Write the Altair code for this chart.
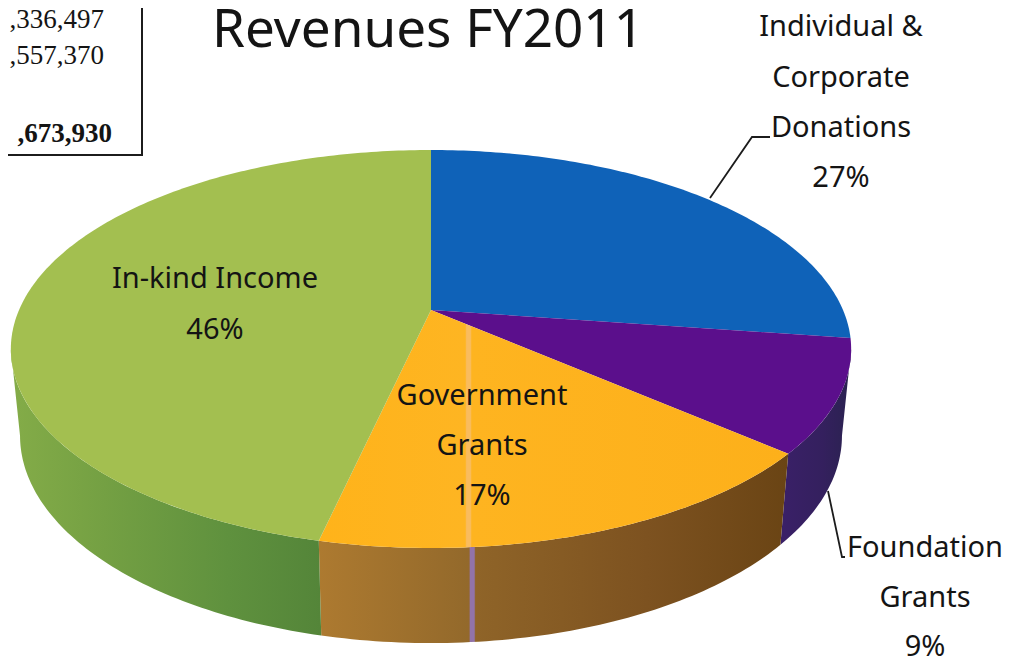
import math
import altair as alt

categories = ["Individual & Corporate Donations", "Foundation Grants", "Government Grants", "In-kind Income"]
shares = [27, 9, 17, 46]

title_text = "Revenues FY2011"
box_lines = [",336,497", ",557,370"]
box_total = ",673,930"

PAGE = 8
TILT = 0.196
TOP = dict(a=-130.6, b=310.0, d=412.0)
BOTTOM = dict(a=-122.0, b=395.0, d=403.0)
CX = 431.0
# part of the rim that faces the viewer (fractions of the turn)
RIM_START = 0.2814
RIM_END = 0.7186


def project(frac, disc):
    ang = 2 * math.pi * frac
    x = math.sin(ang)
    y = math.cos(ang)
    w = 1 + TILT * y
    return [CX + disc["d"] * x / w - PAGE, (disc["a"] * y + disc["b"]) / w - PAGE]


def arc(f0, f1, disc):
    n = max(2, int(abs(f1 - f0) * 400))
    return [project(f0 + (f1 - f0) * i / n, disc) for i in range(n + 1)]


def feature(geom_type, coords):
    return {"type": "Feature", "properties": {}, "geometry": {"type": geom_type, "coordinates": coords}}


def shape(geom_type, coords, **mark):
    return alt.Chart(alt.Data(values=[feature(geom_type, coords)])).mark_geoshape(**mark).project(
        type="identity", scale=1, translate=[0, 0]
    )


def grad(stops):
    return alt.LinearGradient(
        gradient="linear", x1=0, x2=1, y1=0, y2=0,
        stops=[alt.GradientStop(offset=o, color=c) for o, c in stops],
    )


total = sum(shares)
edges = [0.0]
for s in shares:
    edges.append(edges[-1] + s / total)

side_fills = [
    "#0B4A8C",
    grad([(0, "#3A2068"), (0.6, "#34205E"), (1, "#2A2250")]),
    grad([(0, "#AD7A30"), (0.32, "#93692B"), (0.323, "#9273A8"), (0.331, "#9273A8"), (0.334, "#8F6428"),
          (0.7, "#7D5220"), (1, "#6A4414")]),
    grad([(0, "#84AC48"), (0.3, "#74A043"), (0.7, "#5F913E"), (1, "#548539")]),
]
top_fills = [
    "#0F62B8",
    "#5B0F8C",
    grad([(0, "#FFB31A"), (0.312, "#FEB522"), (0.315, "#F9BC5E"), (0.323, "#F9BC5E"), (0.326, "#FEB420"), (1, "#FDB01A")]),
    "#A3BF50",
]

layers = []
# side walls: only the part of each slice's rim that faces the viewer
for i in range(len(shares)):
    f0 = max(edges[i], RIM_START)
    f1 = min(edges[i + 1], RIM_END)
    if f1 <= f0:
        continue
    top_arc = arc(f0, f1, TOP)
    bot_arc = arc(f0, f1, BOTTOM)
    layers.append(shape("Polygon", [top_arc + bot_arc[::-1] + [top_arc[0]]], fill=side_fills[i]))
# top faces
apex = [CX - PAGE, TOP["b"] - PAGE]
for i in range(len(shares)):
    ring = [apex] + arc(edges[i], edges[i + 1], TOP) + [apex]
    layers.append(shape("Polygon", [ring], fill=top_fills[i]))

# leader lines
layers.append(shape("LineString", [[702, 190], [744, 129], [762, 129]], fill="transparent", stroke="#1c1c1c", strokeWidth=1.8))
layers.append(shape("LineString", [[820, 483], [834, 549], [837, 549]], fill="transparent", stroke="#1c1c1c", strokeWidth=1.8))
# text box
layers.append(shape("LineString", [[0, 147], [134, 147], [134, 0]], fill="transparent", stroke="#1c1c1c", strokeWidth=2))


def text(s, x, y, size=29, font="Noto Sans", align="center", color="#141414", **kw):
    return alt.Chart(alt.Data(values=[{"t": s}])).mark_text(
        font=font, fontSize=size, align=align, baseline="alphabetic", color=color, **kw
    ).encode(x=alt.value(x - PAGE), y=alt.value(y - PAGE), text="t:N")


labels = [
    ("Individual &", 841, 36), ("Corporate", 841, 87), ("Donations", 841, 137), (f"{shares[0]}%", 841, 187),
    ("Foundation", 925, 557), ("Grants", 925, 607), (f"{shares[1]}%", 925, 656),
    ("Government", 482, 405), ("Grants", 482, 455), (f"{shares[2]}%", 482, 505),
    ("In-kind Income", 215, 288), (f"{shares[3]}%", 215, 339),
]
for s, x, y in labels:
    layers.append(text(s, x, y))

layers.append(text(title_text, 428, 47, size=53))
layers.append(text(box_lines[0], 104, 28, size=27, font="Liberation Serif", align="right"))
layers.append(text(box_lines[1], 104, 64, size=27, font="Liberation Serif", align="right"))
layers.append(text(box_total, 112, 142, size=27, font="Liberation Serif", align="right", fontWeight="bold"))

chart = (
    alt.layer(*layers)
    .properties(width=998, height=654, padding=0, autosize=alt.AutoSizeParams(type="none"), background="white")
    .configure_view(stroke=None)
)
chart.save("out.html", embed_options={"renderer": "svg", "actions": False})
